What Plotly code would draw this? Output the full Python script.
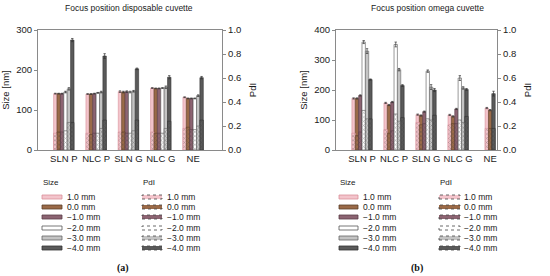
import plotly.graph_objects as go

############ Data ##############
categories = ["SLN P", "NLC P", "SLN G", "NLC G", "NE"]
positions = ["1.0 mm", "0.0 mm", "\u22121.0 mm", "\u22122.0 mm", "\u22123.0 mm", "\u22124.0 mm"]
pos_colors = ["#f3c4cb", "#9a6a48", "#8c6472", "#ffffff", "#c4c4c4", "#5a5a5a"]
pos_lines = ["#d9909a", "#5a4028", "#5a3c48", "#555555", "#666666", "#333333"]

# rows = focus position, columns = categories
size_a = [
    [141, 140, 146, 155, 132],
    [141, 140, 145, 154, 129],
    [141, 141, 146, 154, 129],
    [145, 143, 145, 155, 129],
    [153, 145, 147, 157, 136],
    [275, 235, 203, 182, 181],
]
size_err_a = [
    [1, 1, 2, 1, 1],
    [1, 1, 2, 1, 1],
    [1, 1, 2, 1, 1],
    [2, 1, 2, 1, 1],
    [3, 2, 2, 3, 2],
    [4, 6, 2, 4, 3],
]
pdi_a = [
    [0.14, 0.14, 0.15, 0.15, 0.18],
    [0.15, 0.13, 0.15, 0.14, 0.19],
    [0.15, 0.14, 0.14, 0.14, 0.17],
    [0.16, 0.14, 0.14, 0.14, 0.17],
    [0.23, 0.18, 0.16, 0.18, 0.20],
    [0.23, 0.25, 0.25, 0.24, 0.25],
]

size_b = [
    [172, 157, 118, 117, 140],
    [172, 150, 115, 112, 133],
    [182, 160, 128, 137, None],
    [360, 352, 263, 240, None],
    [330, 268, 210, 207, None],
    [235, 215, 200, 202, 188],
]
size_err_b = [
    [2, 2, 2, 2, 2],
    [2, 2, 2, 2, 2],
    [2, 2, 2, 2, 0],
    [5, 8, 4, 8, 0],
    [8, 4, 8, 4, 0],
    [2, 3, 5, 3, 8],
]
pdi_b = [
    [0.14, 0.17, 0.23, 0.21, 0.18],
    [0.12, 0.14, 0.21, 0.22, 0.18],
    [0.15, 0.16, 0.22, 0.22, None],
    [0.33, 0.30, 0.26, 0.25, None],
    [0.26, 0.24, 0.25, 0.23, None],
    [0.26, 0.27, 0.29, 0.28, 0.18],
]

BAR_W = 0.105
FONT = "Liberation Sans, Arial, sans-serif"


def offsets(table):
    # centre the bars that exist in each category group
    out = [[0] * len(categories) for _ in positions]
    for j in range(len(categories)):
        present = [i for i in range(len(positions)) if table[i][j] is not None]
        n = len(present)
        for r, i in enumerate(present):
            out[i][j] = (r - n / 2) * BAR_W
    return out


fig = go.Figure()


def add_panel(size, err, pdi, xa, ya, ya2):
    offs = offsets(size)
    for i, name in enumerate(positions):
        fig.add_trace(
            go.Bar(
                x=categories, y=size[i], name=name, xaxis=xa, yaxis=ya,
                width=BAR_W, offset=offs[i],
                marker=dict(color=pos_colors[i], line=dict(color=pos_lines[i], width=0.6)),
                error_y=dict(type="data", array=err[i], color="#333333", thickness=0.7, width=1.2),
                showlegend=False,
            )
        )
    for i, name in enumerate(positions):
        fig.add_trace(
            go.Bar(
                x=categories, y=pdi[i], name=name, xaxis=xa, yaxis=ya2,
                width=BAR_W, offset=offs[i],
                marker=dict(
                    color=pos_colors[i],
                    line=dict(color=pos_lines[i], width=0.6),
                    pattern=dict(shape="x", size=3, solidity=0.3, fgcolor="#3a3a3a"),
                ),
                showlegend=False,
            )
        )


add_panel(size_a, size_err_a, pdi_a, "x", "y", "y2")
add_panel(size_b, size_err_b, pdi_b, "x2", "y3", "y4")

y_dom = [0.4565, 0.891]
axis_font = dict(family=FONT, size=9.5, color="#1a1a1a")
line_col = "#8a8a8a"

common_x = dict(type="category", showline=True, linecolor=line_col, mirror=True,
                ticks="", showgrid=False, tickfont=axis_font, zeroline=False,
                automargin=False)
common_y = dict(showline=True, linecolor=line_col, ticks="outside", ticklen=3,
                tickcolor=line_col, showgrid=False, zeroline=False, tickfont=axis_font,
                automargin=False)

fig.update_layout(
    width=550, height=276,
    margin=dict(l=0, r=0, t=0, b=0, autoexpand=False),
    paper_bgcolor="white", plot_bgcolor="white",
    barmode="overlay",
    font=dict(family=FONT, size=9, color="#1a1a1a"),
    xaxis=dict(common_x, domain=[0.069, 0.404], range=[-0.8, 4.9], anchor="y"),
    yaxis=dict(common_y, domain=y_dom, range=[0, 300], dtick=100, anchor="x",
               title=dict(text="Size [nm]", font=axis_font, standoff=4)),
    yaxis2=dict(common_y, overlaying="y", side="right", range=[0, 1.0], dtick=0.2,
                tickformat=".1f", anchor="x",
                title=dict(text="PdI", font=axis_font, standoff=9)),
    xaxis2=dict(common_x, domain=[0.611, 0.904], range=[-0.81, 4.22], anchor="y3"),
    yaxis3=dict(common_y, domain=y_dom, range=[0, 400], dtick=100, anchor="x2",
                title=dict(text="Size [nm]", font=axis_font, standoff=4)),
    yaxis4=dict(common_y, overlaying="y3", side="right", range=[0, 1.0], dtick=0.2,
                tickformat=".1f", anchor="x2",
                title=dict(text="PdI", font=axis_font, standoff=9)),
)


def px_x(v):
    return v / 550


def px_y(v):
    return 1 - v / 276


# panel titles and labels
for txt, xc in [("Focus position disposable cuvette", 129), ("Focus position omega cuvette", 427)]:
    fig.add_annotation(x=px_x(xc), y=px_y(8), xref="paper", yref="paper",
                       text=txt, showarrow=False, xanchor="center", yanchor="middle",
                       font=dict(family=FONT, size=8.5, color="#1a1a1a"))
for lbl, xc in [("(a)", 123), ("(b)", 417)]:
    fig.add_annotation(x=px_x(xc), y=px_y(268), xref="paper", yref="paper",
                       text="<b>" + lbl + "</b>", showarrow=False,
                       xanchor="center", yanchor="middle",
                       font=dict(family="Liberation Serif, Times New Roman, serif", size=10, color="#111111"))

# hand-drawn legends (size: solid swatch, PdI: dotted swatch)
item_y = [197, 207, 217, 228, 238, 248]
legend_blocks = [
    ("Size", 42, 62, 66, "solid"),
    ("PdI", 142, 162, 166, "dot"),
    ("Size", 339, 358, 362, "solid"),
    ("PdI", 439, 460, 463, "dot"),
]
for title, sx0, sx1, tx, dash in legend_blocks:
    fig.add_annotation(x=px_x(sx0), y=px_y(183), xref="paper", yref="paper",
                       text=title, showarrow=False, xanchor="left", yanchor="middle",
                       borderpad=0, font=dict(family=FONT, size=8, color="#1a1a1a"))
    for i, name in enumerate(positions):
        yc = item_y[i]
        fig.add_shape(type="rect", xref="paper", yref="paper",
                      x0=px_x(sx0), x1=px_x(sx1), y0=px_y(yc + 2), y1=px_y(yc - 2),
                      fillcolor=pos_colors[i],
                      line=dict(color=pos_lines[i] if dash == "solid" else "#444444",
                                width=0.8, dash=dash))
        fig.add_annotation(x=px_x(tx), y=px_y(yc), xref="paper", yref="paper",
                           text=name, showarrow=False, xanchor="left", yanchor="middle",
                           borderpad=0, font=dict(family=FONT, size=8.5, color="#1a1a1a"))

fig.write_html("out.html", config={"displayModeBar": False},
               post_script="document.body.style.margin='0';")
